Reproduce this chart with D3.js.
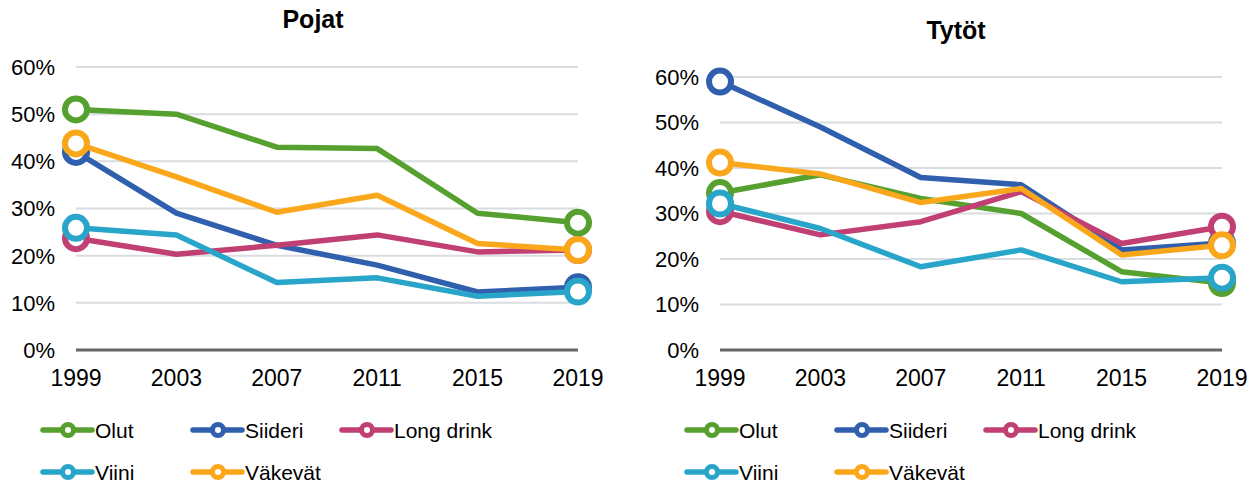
<!DOCTYPE html>
<html>
<head>
  <meta charset="utf-8">
  <script src="https://d3js.org/d3.v7.min.js"></script>
  <style>
    body { margin: 0; background: #fff; }
    svg text { font-family: "Liberation Sans", Arial, sans-serif; fill: #000; }
  </style>
</head>
<body>
<div id="chart"></div>
<script>
  // data (shares)
  var years = [1999, 2003, 2007, 2011, 2015, 2019];
  var seriesNames = ['Olut', 'Siideri', 'Long drink', 'Viini', 'Väkevät'];
  var seriesColors = ['#55a02f', '#2f5fad', '#c04073', '#28a5c8', '#fba71b'];
  var yTicks = [0, 0.1, 0.2, 0.3, 0.4, 0.5, 0.6];

  var pojatOlut = [0.51, 0.50, 0.43, 0.427, 0.29, 0.27];
  var pojatSiideri = [0.42, 0.29, 0.222, 0.18, 0.123, 0.133];
  var pojatLong = [0.237, 0.203, 0.222, 0.244, 0.208, 0.212];
  var pojatViini = [0.259, 0.244, 0.143, 0.153, 0.114, 0.124];
  var pojatVakevat = [0.438, 0.367, 0.292, 0.328, 0.226, 0.212];

  var tytotOlut = [0.345, 0.385, 0.333, 0.30, 0.172, 0.147];
  var tytotSiideri = [0.59, 0.49, 0.379, 0.363, 0.22, 0.235];
  var tytotLong = [0.305, 0.253, 0.282, 0.348, 0.234, 0.271];
  var tytotViini = [0.322, 0.267, 0.183, 0.22, 0.15, 0.159];
  var tytotVakevat = [0.412, 0.387, 0.324, 0.355, 0.209, 0.23];

  var width = 1258, height = 487;

  var svg = d3.select('#chart')
    .append('svg')
    .attr('width', width)
    .attr('height', height);

  function drawPanel(opts) {
    var x = d3.scalePoint().domain(years).range(opts.xRange);
    var y = d3.scaleLinear().domain([0, 0.6]).range(opts.yRange);
    var g = svg.append('g');

    // title
    g.append('text')
      .attr('x', opts.titleX)
      .attr('y', opts.titleY)
      .attr('text-anchor', 'middle')
      .style('font-size', '25px')
      .style('font-weight', 'bold')
      .text(opts.title);

    // gridlines
    g.selectAll('.grid')
      .data(yTicks.slice(1))
      .enter()
      .append('line')
      .attr('x1', opts.xRange[0])
      .attr('x2', opts.xRange[1])
      .attr('y1', function(d) { return y(d); })
      .attr('y2', function(d) { return y(d); })
      .attr('stroke', '#d9dce0')
      .attr('stroke-width', 2);

    g.append('line')
      .attr('x1', opts.xRange[0])
      .attr('x2', opts.xRange[1])
      .attr('y1', y(0))
      .attr('y2', y(0))
      .attr('stroke', '#666')
      .attr('stroke-width', 3);

    // y labels
    g.selectAll('.ylab')
      .data(yTicks)
      .enter()
      .append('text')
      .attr('x', opts.xRange[0] - 21)
      .attr('y', function(d) { return y(d); })
      .attr('dy', '0.36em')
      .attr('text-anchor', 'end')
      .style('font-size', '22px')
      .text(d3.format('.0%'));

    // x labels
    g.selectAll('.xlab')
      .data(years)
      .enter()
      .append('text')
      .attr('x', function(d) { return x(d); })
      .attr('y', y(0) + 36)
      .attr('text-anchor', 'middle')
      .style('font-size', '23px')
      .text(function(d) { return d; });

    var line = d3.line()
      .x(function(d, i) { return x(years[i]); })
      .y(function(d) { return y(d); });

    opts.series.forEach(function(vals, k) {
      var col = seriesColors[k];
      var sg = g.append('g');
      sg.append('path')
        .datum(vals)
        .attr('d', line)
        .attr('fill', 'none')
        .attr('stroke', col)
        .attr('stroke-width', 5.5)
        .attr('stroke-linejoin', 'round');
      sg.selectAll('circle')
        .data([0, vals.length - 1])
        .enter()
        .append('circle')
        .attr('cx', function(i) { return x(years[i]); })
        .attr('cy', function(i) { return y(vals[i]); })
        .attr('r', 11)
        .attr('fill', '#fff')
        .attr('stroke', col)
        .attr('stroke-width', 6);
    });

    // legend
    var colX = [-33, 117, 266];
    var rowY = [430, 472];
    seriesNames.forEach(function(name, k) {
      var lx = opts.xRange[0] + colX[k % 3];
      var ly = rowY[Math.floor(k / 3)];
      var lg = g.append('g').attr('transform', 'translate(' + lx + ',' + ly + ')');
      lg.append('line')
        .attr('x1', 0).attr('x2', 49)
        .attr('y1', 0).attr('y2', 0)
        .attr('stroke', seriesColors[k])
        .attr('stroke-width', 5.5)
        .attr('stroke-linecap', 'round');
      lg.append('circle')
        .attr('cx', 25).attr('cy', 0)
        .attr('r', 5.5)
        .attr('fill', '#fff')
        .attr('stroke', seriesColors[k])
        .attr('stroke-width', 5);
      lg.append('text')
        .attr('x', 52)
        .attr('y', 0)
        .attr('dy', '0.36em')
        .style('font-size', '21px')
        .text(name);
    });
  }

  drawPanel({
    title: 'Pojat', titleX: 313, titleY: 28,
    xRange: [76, 578], yRange: [350, 67],
    series: [pojatOlut, pojatSiideri, pojatLong, pojatViini, pojatVakevat]
  });

  drawPanel({
    title: 'Tytöt', titleX: 956, titleY: 39,
    xRange: [720, 1222], yRange: [350, 77],
    series: [tytotOlut, tytotSiideri, tytotLong, tytotViini, tytotVakevat]
  });
</script>
</body>
</html>
